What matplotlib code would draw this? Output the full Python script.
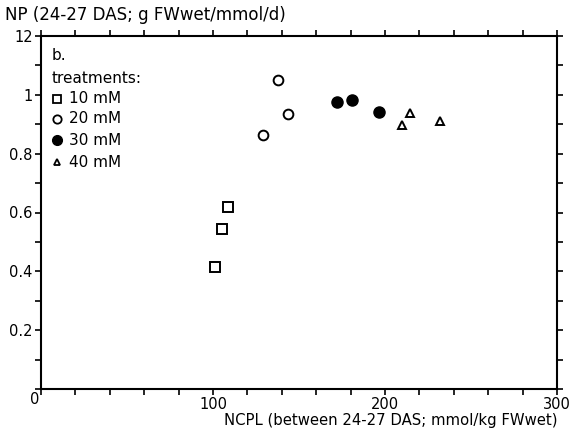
import matplotlib
matplotlib.use("Agg")
import matplotlib.pyplot as plt
import numpy as np

# data
x_10 = [101.2, 105.4, 108.5]
y_10 = [0.415, 0.545, 0.617]
x_20 = [129.2, 138.0, 143.4]
y_20 = [0.863, 1.049, 0.935]
x_30 = [171.9, 180.6, 196.7]
y_30 = [0.975, 0.984, 0.941]
x_40 = [209.7, 214.5, 232.0]
y_40 = [0.899, 0.939, 0.912]

x_ticks = np.arange(0, 301, 20)
x_labels = ["" if (v % 100 or v == 0) else str(v) for v in x_ticks]
y_ticks = np.round(np.arange(0, 1.21, 0.1), 1)
y_label_map = {0.2: "0.2", 0.4: "0.4", 0.6: "0.6", 0.8: "0.8", 1.0: "1", 1.2: "12"}
y_labels = [y_label_map.get(v, "") for v in y_ticks]

plt.rcParams['font.family'] = ['DejaVu Sans']
fig = plt.figure(figsize=(5.77, 4.38), dpi=100)
ax = fig.add_axes([41/577, 1-389/438, (557-41)/577, (389-36)/438])

ax.plot(x_10, y_10, ls='none', marker='s', ms=7, mfc='white', mec='black', mew=1.4)
ax.plot(x_20, y_20, ls='none', marker='o', ms=7, mfc='white', mec='black', mew=1.4)
ax.plot(x_30, y_30, ls='none', marker='o', ms=8, mfc='black', mec='black', mew=1.0)
ax.plot(x_40, y_40, ls='none', marker='^', ms=6, mfc='white', mec='black', mew=1.4)

ax.set_xlim(0, 300)
ax.set_ylim(0, 1.2)
ax.set_xticks(x_ticks)
ax.set_xticklabels(x_labels, fontsize=10.5)
ax.set_yticks(y_ticks)
ax.set_yticklabels(y_labels, fontsize=10.5)
ax.tick_params(direction='out', length=4, width=1.2, top=True, right=True, pad=2)
for s in ax.spines.values():
    s.set_linewidth(1.5)

ax.text(-1, -0.01, "0", ha='right', va='top', fontsize=10.5)

fs = 11
ax.text(6, 1.133, "b.", fontsize=fs, va='center', ha='left')
ax.text(6, 1.055, "treatments:", fontsize=fs, va='center', ha='left')
leg_y = [0.986, 0.918, 0.846, 0.771]
leg_txt = ["10 mM", "20 mM", "30 mM", "40 mM"]
leg_style = [dict(marker='s', ms=6, mfc='white', mew=1.3),
             dict(marker='o', ms=6, mfc='white', mew=1.3),
             dict(marker='o', ms=7, mfc='black', mew=1.0),
             dict(marker='^', ms=5, mfc='white', mew=1.3)]
for yy, tt, st in zip(leg_y, leg_txt, leg_style):
    ax.plot([9.5], [yy], ls='none', mec='black', clip_on=False, **st)
    ax.text(16.5, yy, tt, fontsize=fs, va='center', ha='left')

fig.text(5/577, 1-15/438, "NP (24-27 DAS; g FWwet/mmol/d)", fontsize=12, va='center', ha='left')
fig.text(557/577, 1-421/438, "NCPL (between 24-27 DAS; mmol/kg FWwet)", fontsize=10.7, va='center', ha='right')

fig.savefig("out.png", dpi=100)
